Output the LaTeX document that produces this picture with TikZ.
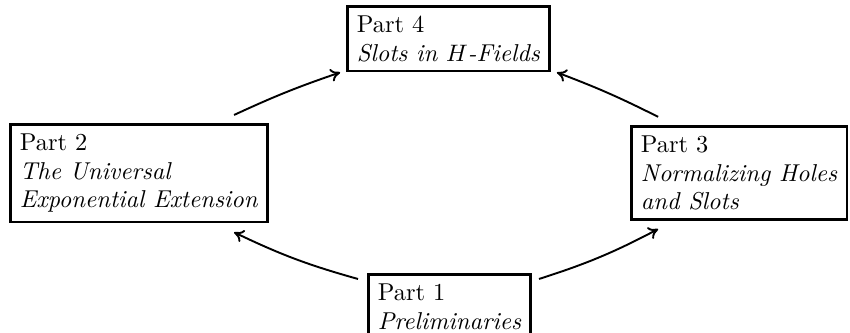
\documentclass[tikz,border=0pt]{standalone}
\usepackage{amsmath}
\usetikzlibrary{arrows.meta}
\tikzset{
  partbox/.style={draw,line width=1.1pt,align=left,inner xsep=4pt,inner ysep=4pt,anchor=north west,
    font=\fontsize{10.25}{12}\selectfont},
  partarrow/.style={line width=0.8pt,-{Computer Modern Rightarrow[length=4pt,width=5.5pt]}}
}

\begin{document}
\begin{tikzpicture}[x=1pt,y=1pt]
        \useasboundingbox (0,0) rectangle (357.1,-139.5);
        \node[partbox] (p4) at (145.4,-2.1) {Part 4\\\textit{Slots in $H$-Fields}};
        \node[partbox] (p2) at (3.8,-51.7) {Part 2\\\textit{The Universal}\\\textit{Exponential Extension}};
        \node[partbox] (p3) at (264.7,-52.5) {Part 3\\\textit{Normalizing Holes}\\\textit{and Slots}};
        \node[partbox] (p1) at (154.2,-114.7) {Part 1\\\textit{Preliminaries}};
        % arrows round the ring
        \draw[partarrow] ([xshift=-3.8pt,yshift=-2.5pt]p1.north west) to[bend left=5] ([xshift=-14.7pt,yshift=-3.8pt]p2.south east);
        \draw[partarrow] ([xshift=2.9pt,yshift=-2.5pt]p1.north east) to[bend right=5] ([xshift=11.8pt,yshift=-3.4pt]p3.south west);
        \draw[partarrow] ([xshift=-14.7pt,yshift=3.4pt]p2.north east) to[bend left=3] ([xshift=-2.5pt]p4.south west);
        \draw[partarrow] ([xshift=11.8pt,yshift=3.4pt]p3.north west) to[bend right=3] ([xshift=2.5pt]p4.south east);
      \end{tikzpicture}
\end{document}
